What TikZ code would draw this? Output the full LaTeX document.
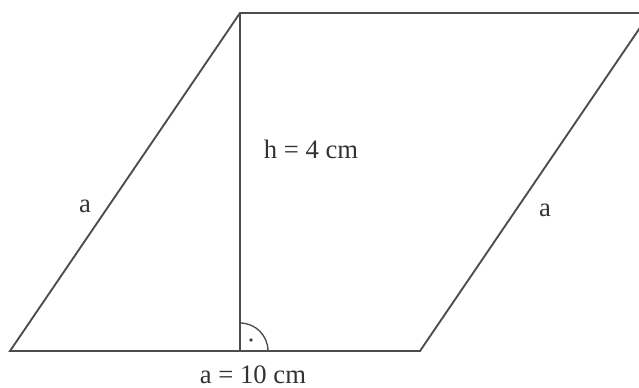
\documentclass[tikz,border=0pt]{standalone}
\usepackage{fontspec}
\setmainfont{Liberation Serif}
\begin{document}
\begin{tikzpicture}[x=0.75pt,y=-0.75pt,
  edge/.style={draw=black!70,line width=1.4pt},
  lbl/.style={anchor=base,inner sep=0pt,text=black!80,font=\fontsize{20}{24}\selectfont}]
\useasboundingbox (0,0) rectangle (639,388);
\begin{scope}
\clip (0,0) rectangle (639,388);
\coordinate (A) at (10,351);
\coordinate (B) at (420,351);
\coordinate (C) at (650,13);
\coordinate (D) at (240,13);
\coordinate (F) at (240,351);
\draw[edge,line join=miter] (C) -- (D) -- (A) -- (B) -- (C);
\draw[edge] (D) -- (F);
\draw[edge,line width=1pt] (268,351) arc[start angle=0,end angle=-90,radius=28];
\fill[black!75] (251,340) circle[radius=1.8];
\end{scope}
\node[lbl] (h) at (311,159) {h = 4 cm};
\node[lbl] (al) at (85,213) {a};
\node[lbl] (ar) at (545,217) {a};
\node[lbl] (ab) at (253,383) {a = 10 cm};
\end{tikzpicture}
\end{document}
